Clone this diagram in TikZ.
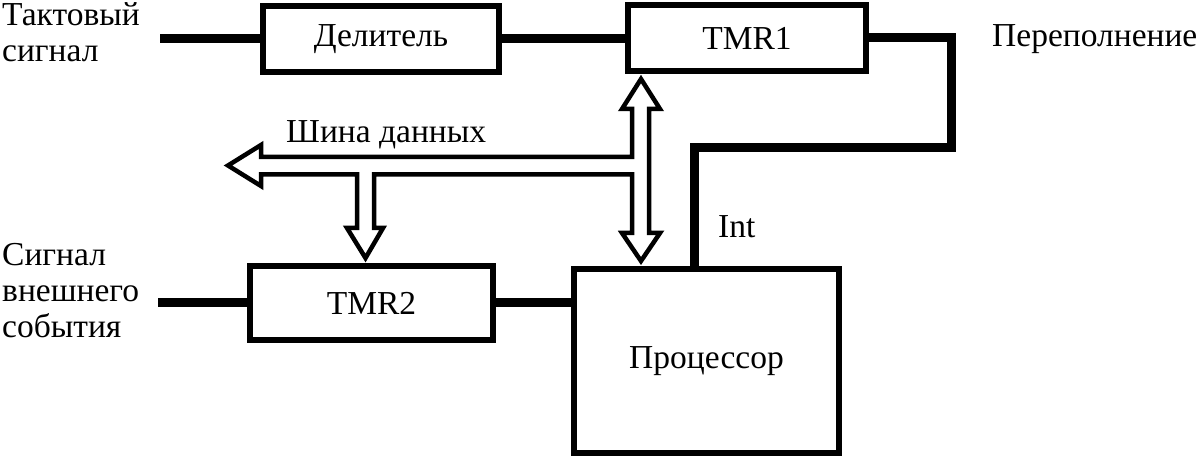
\documentclass[tikz,border=0pt]{standalone}
\usepackage{fontspec}
\setmainfont{Liberation Serif}
\begin{document}
\begin{tikzpicture}[x=1pt,y=-1pt,
  txt/.style={font=\fontsize{33.5}{36}\selectfont, inner sep=0pt},
  blockbox/.style={draw, line width=6pt, inner sep=0pt, outer sep=0pt, font=\fontsize{33.5}{36}\selectfont},
  sig/.style={line width=9pt, line join=miter},
  bus/.style={line width=4.5pt, line join=miter, miter limit=10}]
\useasboundingbox (0,0) rectangle (1200,457);
% blocks
\node[blockbox, minimum width=236pt, minimum height=66pt] (del) at (381,39) {Делитель};
\node[blockbox, minimum width=238pt, minimum height=66pt] (tmr1) at (747,38) {TMR1};
\node[blockbox, minimum width=243pt, minimum height=74pt] (tmr2) at (371.5,303) {TMR2};
\node[blockbox, minimum width=265pt, minimum height=184pt] (cpu) at (706.5,361) {Процессор};
% labels
\node[txt, anchor=north west, align=left] (lclk) at (2,2) {Тактовый\\сигнал};
\node[txt, anchor=north west, align=left] (lext) at (2,243) {Сигнал\\внешнего\\события};
\node[txt, anchor=base west] (lovf) at (992,47) {Переполнение};
\node[txt, anchor=base west] (lint) at (718,238) {Int};
\node[txt, anchor=base west] (lbus) at (286,143) {Шина данных};
% signal lines
\coordinate (cin) at (160,39);
\coordinate (ein) at (158,302);
\coordinate (k1) at (951,148);
\coordinate (k2) at (694,148);
\draw[sig] (cin) -- (del.west |- cin);
\draw[sig] (del.east) -- (tmr1.west |- del.east);
\draw[sig] (ein) -- (tmr2.west |- ein);
\draw[sig] (tmr2.east |- ein) -- (cpu.west |- ein);
\draw[sig] (tmr1.east) -| (k1) -- (k2) -- (k2 |- cpu.north);
% data bus
\draw[bus] (641,79) -- (660,109) -- (649,109) -- (649,233) -- (660,233) -- (641,261)
  -- (622,233) -- (632,233) -- (632,174.5) -- (374,174.5) -- (374,228) -- (383,228)
  -- (365.5,258) -- (347,228) -- (357,228) -- (357,174.5) -- (261,174.5) -- (261,186)
  -- (228,165.5) -- (261,145) -- (261,157) -- (632,157) -- (632,109) -- (622,109) -- cycle;
\end{tikzpicture}
\end{document}
